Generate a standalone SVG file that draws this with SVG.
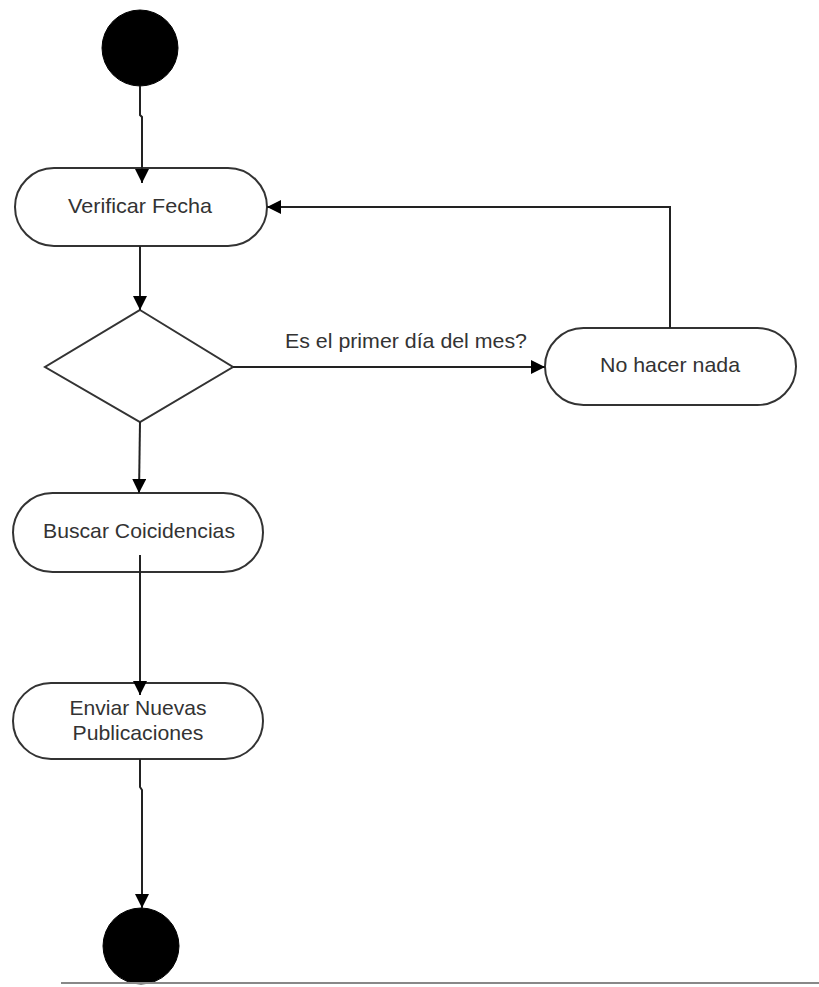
<svg xmlns="http://www.w3.org/2000/svg" width="819" height="987" viewBox="0 0 819 987">
<style>
.node{fill:#fff;stroke:#333;stroke-width:2}
.term{fill:#000;stroke:#000}
.edge{fill:none;stroke:#222;stroke-width:2}
.lbl{font-family:"Liberation Sans",Arial,sans-serif;font-size:21px;fill:#333;text-anchor:middle}
</style>
<defs>
<marker id="arr" markerUnits="userSpaceOnUse" markerWidth="16" markerHeight="16" refX="14" refY="7" orient="auto">
<path d="M0,0 L14,7 L0,14 z" fill="#000"/>
</marker>
</defs>
<rect width="819" height="987" fill="#fff"/>
<g id="start"><circle class="term" cx="140" cy="48" r="38"/></g>
<g id="verificar">
<rect class="node" x="15" y="168" width="252" height="78" rx="39"/>
<text class="lbl" x="140" y="213" textLength="144" lengthAdjust="spacingAndGlyphs">Verificar Fecha</text>
</g>
<g id="decision"><polygon class="node" points="140,310 233,367 140,422 45,367"/></g>
<g id="nohacer">
<rect class="node" x="545" y="328" width="251" height="77" rx="38.5"/>
<text class="lbl" x="670" y="372" textLength="140" lengthAdjust="spacingAndGlyphs">No hacer nada</text>
</g>
<g id="buscar">
<rect class="node" x="13" y="493" width="250" height="79" rx="39.5"/>
<text class="lbl" x="139" y="538" textLength="192" lengthAdjust="spacingAndGlyphs">Buscar Coicidencias</text>
</g>
<g id="enviar">
<rect class="node" x="13" y="683" width="250" height="76" rx="38"/>
<text class="lbl" x="138" y="715" textLength="137" lengthAdjust="spacingAndGlyphs">Enviar Nuevas</text>
<text class="lbl" x="138" y="740" textLength="131" lengthAdjust="spacingAndGlyphs">Publicaciones</text>
</g>
<g id="end"><circle class="term" cx="141" cy="946" r="38"/></g>
<g id="connectors">
<path class="edge" d="M140,86 V115 L142,117 V183" marker-end="url(#arr)"/>
<path class="edge" d="M140,246 V310" marker-end="url(#arr)"/>
<path class="edge" d="M140,422 L139,493" marker-end="url(#arr)"/>
<path class="edge" d="M140,555 V695" marker-end="url(#arr)"/>
<path class="edge" d="M233,367 H545" marker-end="url(#arr)"/>
<path class="edge" d="M670,328 V207 H267" marker-end="url(#arr)"/>
<path class="edge" d="M140,759 V787 L142,790 V908" marker-end="url(#arr)"/>
<text class="lbl" x="406" y="348" textLength="242" lengthAdjust="spacingAndGlyphs">Es el primer día del mes?</text>
</g>
<line x1="61" y1="983" x2="819" y2="983" stroke="#888" stroke-width="2"/>
</svg>
